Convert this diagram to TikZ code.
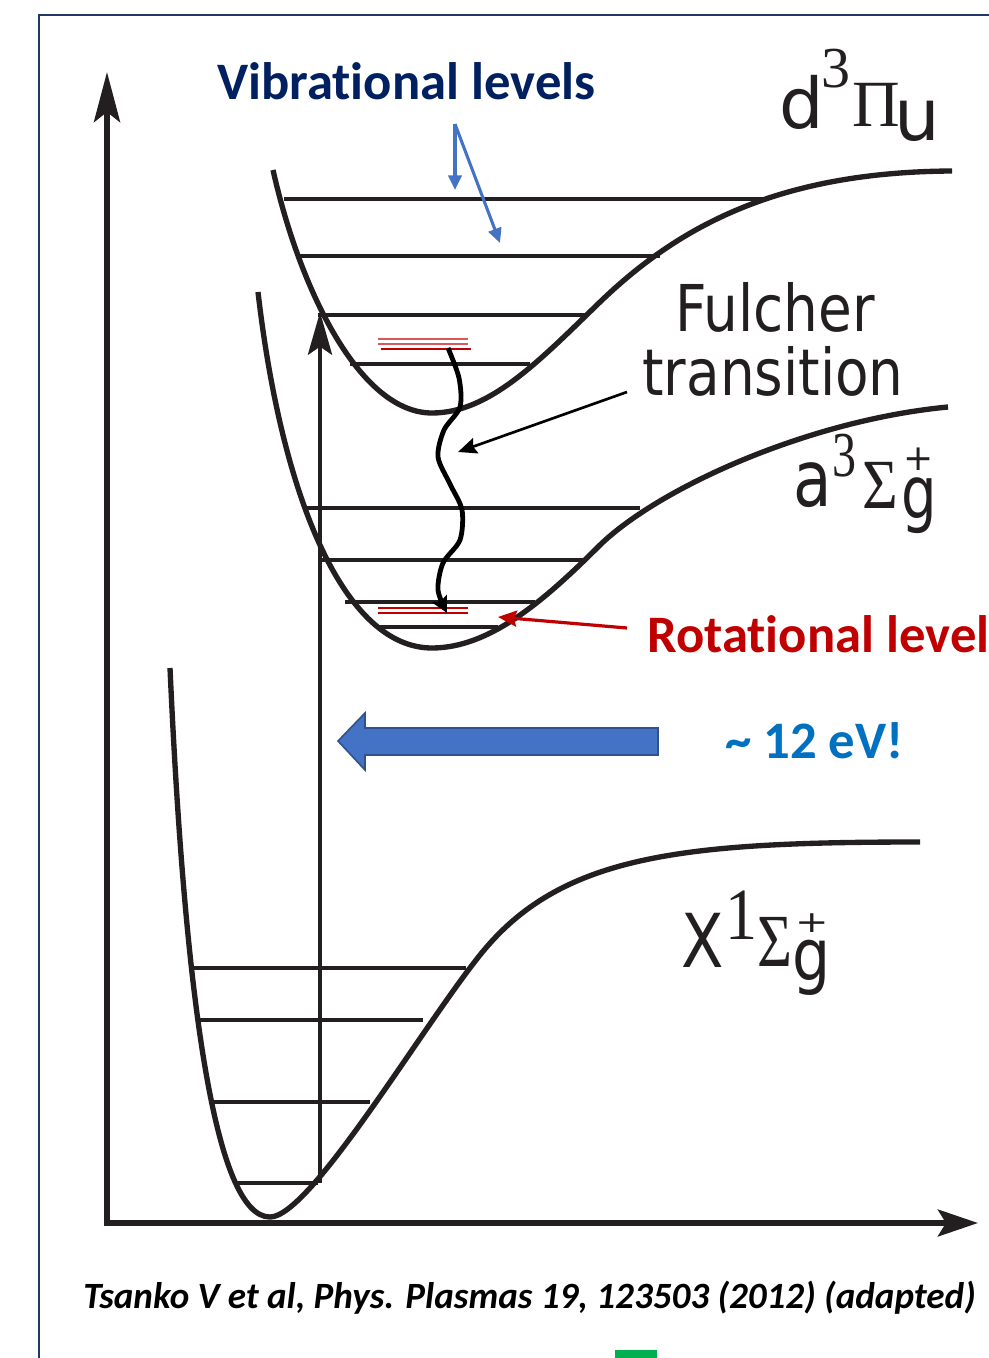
\documentclass[tikz,border=0pt]{standalone}
\usepackage{fontspec}
\usepackage{graphicx}
\setmainfont{Carlito}[Ligatures=NoCommon]
\newfontfamily\dvs{DejaVu Sans}
\newfontfamily\lser{Liberation Serif}
\usetikzlibrary{arrows.meta}
\newcommand\setfs[1]{\fontsize{#1}{#1}\selectfont}
\definecolor{ink}{HTML}{231F20}
\definecolor{frameblue}{HTML}{203864}
\definecolor{vibblue}{HTML}{002060}
\definecolor{arrowblue}{HTML}{4472C4}
\definecolor{arrowedge}{HTML}{2F528F}
\definecolor{rotred}{HTML}{C00000}
\definecolor{lightred}{HTML}{D65A5A}
\definecolor{evblue}{HTML}{0070C0}
\definecolor{markgreen}{HTML}{00B050}
\tikzset{
  pes/.style={draw=ink, line width=4pt},
  lvl/.style={draw=ink, line width=3pt},
  gl/.style={inner sep=0pt, outer sep=0pt, text=ink},
  rotl/.style={line width=1pt},
  txt/.style={anchor=base west, inner sep=0pt, font=\bfseries\setfs{39.5}},
}
\begin{document}
\begin{tikzpicture}[x=0.75pt,y=-0.75pt]
\useasboundingbox (0,0) rectangle (988,1358);
\fill[white] (0,0) rectangle (988,1358);
% frame
\draw[frameblue, line width=1.6pt] (1000,15) -- (39,15) -- (39,1370);
\fill[markgreen] (615,1350) rectangle (657,1362);

% axes
\coordinate (ytip) at (107,72);
\coordinate (origin) at (107,1223);
\coordinate (xtip) at (978,1223);
\draw[ink, line width=4.5pt, miter limit=10,
  {Stealth[length=37.5pt,width=19.5pt,inset=7.5pt]}-{Stealth[length=30pt,width=20pt,inset=6pt]}]
  (ytip) -- (origin) -- (xtip);

% d state
\draw[pes] (273,170) .. controls (300,290) and (360,413) .. (432,413)
  .. controls (490,413) and (540,360) .. (600,302)
  .. controls (680,225) and (780,172) .. (952,171);
\draw[lvl] (284,199) -- (765,199);
\draw[lvl] (296,256) -- (660,256);
\draw[lvl] (318,315) -- (587,315);
\draw[lvl] (350,364) -- (530,364);

% a state
\draw[pes] (258,292) .. controls (282,500) and (345,648) .. (432,648)
  .. controls (490,648) and (545,600) .. (600,545)
  .. controls (660,487) and (810,420) .. (948,407);
\draw[lvl] (306,508) -- (640,508);
\draw[lvl] (322,560) -- (585,560);
\draw[lvl] (345,602) -- (535,602);
\draw[lvl] (378,627) -- (498,627);

% X state
\draw[pes] (170,668) .. controls (185,1000) and (215,1217) .. (270,1217)
  .. controls (310,1217) and (420,1030) .. (480,955)
  .. controls (560,855) and (680,842) .. (920,842);
\draw[lvl] (193,968) -- (466,968);
\draw[lvl] (198,1020) -- (423,1020);
\draw[lvl] (212,1102) -- (370,1102);
\draw[lvl] (235,1183) -- (318,1183);

% excitation arrow
\coordinate (excbot) at (320,1183);
\coordinate (exctop) at (320,312);
\draw[ink, line width=3.2pt, -{Stealth[length=32pt,width=18pt,inset=6pt]}] (excbot) -- (exctop);

% rotational lines
\draw[rotl, lightred] (378,339) -- (468,339);
\draw[rotl, lightred] (378,344) -- (468,344);
\draw[rotl, rotred] (381,349) -- (471,349);
\draw[rotl, rotred] (378,608) -- (468,608);
\draw[rotl, rotred] (378,613) -- (468,613);

% wavy transition arrow
\draw[black, line width=3.6pt, -{Stealth[length=12pt,width=12pt,inset=2pt]}]
  plot[smooth] coordinates {(448,348) (459,378) (460,407) (444,430) (438,457) (450,484) (462,510) (460,540) (443,563) (438,590) (447,613)};

% block arrow
\draw[arrowedge, fill=arrowblue, line width=1.2pt]
  (338,741) -- (365,713) -- (365,728) -- (658,728) -- (658,755) -- (365,755) -- (365,770) -- cycle;

% texts
\node[txt, text=vibblue] (vib) at (217,100) {Vibrational levels};
\node[txt, text=rotred] (rot) at (647,652) {Rotational level};
\node[txt, text=evblue] (ev) at (725,758) {\textasciitilde{} 12 eV!};
\node[anchor=base west, inner sep=0pt, font=\bfseries\itshape\setfs{27.8}] (cite) at (83,1308) {Tsanko V et al, Phys. Plasmas 19, 123503 (2012) (adapted)};

\node[anchor=base, inner sep=0pt, text=ink, font=\dvs\setfs{48.4}] (ful) at (775,332) {\scalebox{0.85}[1]{Fulcher}};
\node[anchor=base, inner sep=0pt, text=ink, font=\dvs\setfs{48.4}] (trans) at (773,395) {\scalebox{0.85}[1]{transition}};

% state labels
\node[gl, font=\dvs\setfs{52.5}] (dlet) at (801.5,102.5) {d};
\node[gl, font=\lser\setfs{43.5}] (dsup) at (835.5,69) {3};
\node[gl, font=\lser\setfs{49.5}] (dPi) at (876.5,105) {Π};
\node[gl, font=\dvs\setfs{54}] (dsub) at (917.5,121) {u};

\node[gl, font=\dvs\setfs{47}] (alet) at (812.5,485) {\scalebox{1}[1.25]{a}};
\node[gl, font=\lser\setfs{40}] (asup) at (844,456) {\scalebox{0.9}[1.2]{3}};
\node[gl, font=\lser\setfs{46}] (aSig) at (880,485) {\scalebox{1}[1.15]{Σ}};
\node[gl, anchor=base, font=\dvs] (asub) at (919,518)
  {\makebox[0pt][l]{\hspace{2pt}\raisebox{35.5pt}{\setfs{27}+}}\setfs{42}\scalebox{1}[1.3]{g}};

\node[gl, font=\dvs\setfs{46.5}] (xlet) at (703,940) {\scalebox{1}[1.2]{X}};
\node[gl, font=\lser\setfs{48}] (xsup) at (741,915) {\scalebox{1}[1.15]{1}};
\node[gl, font=\lser\setfs{45}] (xSig) at (774.5,942) {\scalebox{1}[1.25]{Σ}};
\node[gl, anchor=base, font=\dvs] (xsub) at (812,980)
  {\makebox[0pt][l]{\hspace{1.7pt}\raisebox{36pt}{\setfs{30}\scalebox{1}[0.75]{+}}}\setfs{45}\scalebox{1}[1.2]{g}};

% annotation arrows
\coordinate (vibsrc) at (455,124);
\coordinate (vibtipA) at (455,190);
\coordinate (vibtipB) at (500,243);
\draw[arrowblue, line width=2.3pt, -{Triangle[length=11pt,width=10pt]}] (vibsrc) -- (vibtipA);
\draw[arrowblue, line width=2.3pt, -{Triangle[length=11pt,width=10pt]}] (vibsrc) -- (vibtipB);

\coordinate (fulsrc) at (627,392);
\coordinate (fultip) at (458,452);
\draw[black, line width=2pt, -{Stealth[length=14pt,width=12pt,inset=2pt]}] (fulsrc) -- (fultip);

\coordinate (rotsrc) at (627,628);
\coordinate (rottip) at (498,617);
\draw[rotred, line width=2.4pt, -{Stealth[length=14pt,width=12pt,inset=2pt]}] (rotsrc) -- (rottip);
\end{tikzpicture}
\end{document}
